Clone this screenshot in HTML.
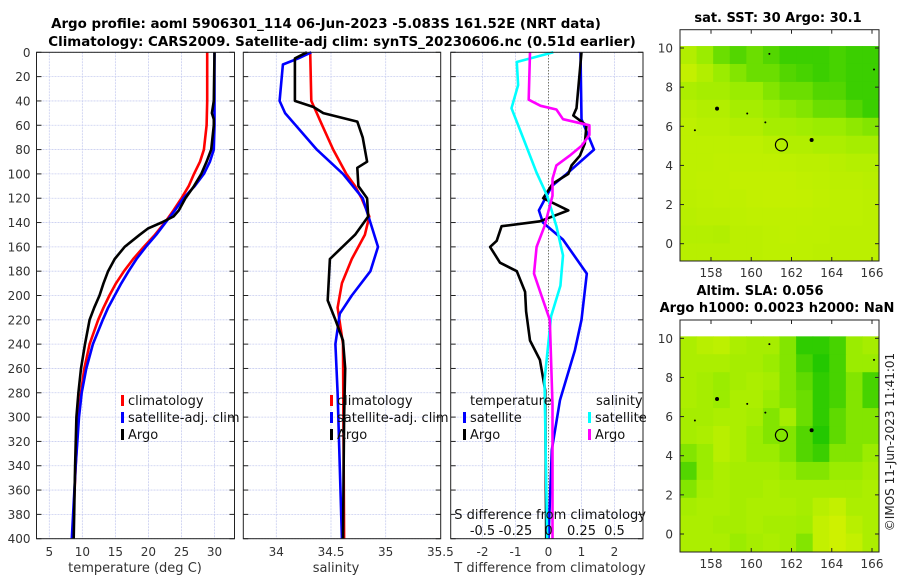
<!DOCTYPE html>
<html><head><meta charset="utf-8"><style>
body{margin:0;background:#fff;}
svg{display:block;font-family:"DejaVu Sans","Liberation Sans",sans-serif;}
</style></head><body>
<svg id="fig" width="900" height="580" viewBox="0 0 900 580" xmlns="http://www.w3.org/2000/svg">
<text x="326" y="28" text-anchor="middle" font-size="13.4" font-weight="bold">Argo profile: aoml 5906301_114 06-Jun-2023 -5.083S 161.52E (NRT data)</text>
<text x="342" y="46" text-anchor="middle" font-size="13.4" font-weight="bold">Climatology: CARS2009. Satellite-adj clim: synTS_20230606.nc (0.51d earlier)</text>
<text x="778" y="22" text-anchor="middle" font-size="13" font-weight="bold">sat. SST: 30 Argo: 30.1</text>
<text x="760" y="295" text-anchor="middle" font-size="13" font-weight="bold">Altim. SLA: 0.056</text>
<text x="777" y="312" text-anchor="middle" font-size="13" font-weight="bold">Argo h1000: 0.0023 h2000: NaN</text>
<text transform="translate(894,442) rotate(-90)" text-anchor="middle" font-size="12" fill="#222">©IMOS 11-Jun-2023 11:41:01</text>
<g id="plots"></g>
</svg>
<script>
// ---- data ----
var depthTicks=[0,20,40,60,80,100,120,140,160,180,200,220,240,260,280,300,320,340,360,380,400];
var tTicks=[5,10,15,20,25,30];
var sTicks=[34,34.5,35,35.5];
var dTTicks=[-2,-1,0,1,2];
var dSTickLabels=["-0.5","-0.25","0","0.25","0.5"];
var dSTicks=[-0.5,-0.25,0,0.25,0.5];
// temperature
var tClimD=[0,20,40,60,80,90,100,110,120,130,140,150,160,170,180,190,200,210,220,240,260,280,300,340,400];
var tClimV=[28.9,28.9,28.9,28.8,28.4,27.8,26.9,26.1,25,23.8,22.5,21,19.3,17.7,16.3,15.1,14.1,13.2,12.4,11.1,10.3,9.8,9.4,9,8.5];
var tSatD=[0,20,60,80,90,100,110,120,130,140,150,160,170,180,190,200,210,220,240,260,280,300,340,400];
var tSatV=[30,30,30,29.9,29.3,28.4,27,25.3,24,22.6,21.2,19.6,18.2,17,15.9,14.9,13.9,13.1,11.6,10.6,9.9,9.5,9,8.4];
var tArgoD=[0,40,50,55,60,80,90,100,110,120,130,135,140,145,150,160,170,180,190,200,210,220,240,260,280,300,340,400];
var tArgoV=[30,29.9,29.6,29.9,29.9,29.5,28.8,28,26.9,25.6,24.6,23.8,22,19.9,18.7,16.4,14.9,13.9,13.2,12.6,11.8,11.1,10.4,9.8,9.4,9.1,8.9,8.7];
// salinity
var sClimD=[0,40,50,60,80,100,110,120,135,150,170,190,210,240,400];
var sClimV=[34.31,34.32,34.37,34.42,34.52,34.64,34.72,34.78,34.85,34.81,34.69,34.6,34.56,34.61,34.62];
var sSatD=[0,5,10,40,50,80,100,120,140,160,180,200,215,240,280,400];
var sSatV=[34.32,34.2,34.06,34.03,34.08,34.37,34.61,34.79,34.86,34.93,34.86,34.69,34.58,34.54,34.56,34.6];
var sArgoD=[0,5,10,40,45,50,57,70,90,95,110,120,135,150,170,204,220,237,260,300,400];
var sArgoV=[34.28,34.17,34.17,34.17,34.34,34.43,34.74,34.79,34.83,34.74,34.75,34.83,34.84,34.72,34.49,34.47,34.54,34.61,34.63,34.62,34.61];
// differences
var dTSatD=[0,55,80,100,110,130,140,154,182,220,245,286,327,400];
var dTSatV=[0.97,1.0,1.38,0.55,0.1,-0.29,-0.17,0.44,1.16,1.0,0.8,0.35,0.1,0];
var dTArgoD=[0,46,52,60,75,85,93,100,108,120,130,139,143,155,160,173,180,197,213,237,253,278,400];
var dTArgoV=[1.0,0.85,0.75,1.15,1.1,0.95,0.7,0.6,0.13,-0.16,0.6,-0.26,-1.42,-1.57,-1.77,-1.47,-0.96,-0.71,-0.68,-0.56,-0.26,-0.1,-0.07];
var dSSatD=[0,8,27,46,71,99,118,143,167,192,217,270,400];
var dSSatV=[0.036,-0.24,-0.23,-0.28,-0.19,-0.09,-0.01,0.06,0.11,0.09,0.02,-0.03,-0.01];
var dSArgoD=[0,39,44,47,55,60,68,77,85,93,104,118,143,160,182,198,220,290,400];
var dSArgoV=[-0.14,-0.15,-0.06,0.06,0.11,0.31,0.31,0.25,0.16,0.06,0.03,0.03,-0.03,-0.09,-0.11,-0.06,0.01,0.03,0.03];
// maps
var lonTicks=[158,160,162,164,166];
var latTicks=[0,2,4,6,8,10];
var sstGrid=[
[0.7,0.5,0.3,0.2,0.3,0.2,0.1,0.1,0.1,0.15,0.1,0.1],
[0.85,0.7,0.5,0.4,0.3,0.3,0.2,0.15,0.1,0.15,0.1,0.1],
[0.65,0.6,0.6,0.5,0.5,0.4,0.3,0.3,0.2,0.2,0.1,0.1],
[0.75,0.7,0.7,0.6,0.6,0.5,0.45,0.4,0.3,0.3,0.2,0.1],
[0.8,0.75,0.75,0.7,0.7,0.6,0.6,0.55,0.5,0.5,0.45,0.4],
[0.8,0.8,0.8,0.8,0.8,0.75,0.7,0.7,0.65,0.65,0.6,0.6],
[0.8,0.8,0.82,0.82,0.82,0.82,0.8,0.78,0.78,0.75,0.72,0.72],
[0.8,0.82,0.82,0.84,0.84,0.84,0.84,0.82,0.8,0.78,0.78,0.75],
[0.78,0.8,0.82,0.82,0.84,0.85,0.85,0.84,0.82,0.8,0.8,0.78],
[0.75,0.78,0.78,0.8,0.82,0.82,0.82,0.82,0.8,0.8,0.8,0.78],
[0.72,0.72,0.7,0.78,0.78,0.8,0.82,0.8,0.8,0.78,0.78,0.78],
[0.75,0.75,0.75,0.78,0.78,0.8,0.8,0.8,0.78,0.78,0.78,0.78]];
var slaGrid=[
[0.65,0.75,0.8,0.65,0.6,0.6,0.4,0.05,0.05,0.15,0.5,0.6],
[0.65,0.65,0.65,0.6,0.6,0.5,0.4,0.15,0.0,0.15,0.5,0.5],
[0.65,0.6,0.5,0.6,0.65,0.6,0.4,0.25,0.05,0.15,0.4,0.15],
[0.65,0.6,0.5,0.65,0.65,0.5,0.4,0.3,0.05,0.15,0.4,0.15],
[0.6,0.6,0.65,0.65,0.6,0.4,0.6,0.3,0.05,0.25,0.4,0.4],
[0.6,0.65,0.75,0.65,0.5,0.4,0.4,0.2,0.0,0.25,0.4,0.4],
[0.4,0.5,0.75,0.65,0.5,0.5,0.4,0.2,0.1,0.4,0.4,0.5],
[0.2,0.5,0.65,0.6,0.6,0.6,0.5,0.4,0.4,0.5,0.5,0.6],
[0.4,0.6,0.65,0.6,0.6,0.65,0.6,0.6,0.6,0.6,0.6,0.65],
[0.6,0.65,0.65,0.6,0.65,0.65,0.65,0.6,0.75,0.85,0.65,0.65],
[0.65,0.65,0.6,0.6,0.65,0.6,0.6,0.55,0.85,0.95,0.75,0.65],
[0.65,0.65,0.65,0.5,0.6,0.65,0.6,0.4,0.85,0.95,0.85,0.65]];
var floatLon=[161.5], floatLat=[5.05];
var otherLon=[163,158.3,159.8,160.7,157.2,160.9,166.1];
var otherLat=[5.3,6.9,6.65,6.2,5.8,9.7,8.9];

// ---- helpers ----
var NS="http://www.w3.org/2000/svg";
var root=document.getElementById('plots');
function mk(tag,attrs,parent,text){var e=document.createElementNS(NS,tag);for(var k in attrs)e.setAttribute(k,attrs[k]);if(text!==undefined)e.textContent=text;(parent||root).appendChild(e);return e;}
var Y0=52.3,Y1=538.7;
function yD(d){return Y0+(d/400)*(Y1-Y0);}
function lin(d0,d1,r0,r1){return function(v){return r0+(v-d0)/(d1-d0)*(r1-r0);};}

function panel(name,x0,x1,xs,ticks,tickLabels,showY){
  var g=mk('g',{});
  
  
  mk('rect',{x:x0,y:Y0,width:x1-x0,height:Y1-Y0,fill:'#fff'},g);
  depthTicks.forEach(function(d){
    var gl=mk('line',{x1:x0,x2:x1,y1:yD(d),y2:yD(d),stroke:'#c8cdf0','stroke-width':0.8,'stroke-dasharray':'2,1'},g);
    
    
    mk('line',{x1:x0,x2:x0+5,y1:yD(d),y2:yD(d),stroke:'#222'},g);
    mk('line',{x1:x1-5,x2:x1,y1:yD(d),y2:yD(d),stroke:'#222'},g);
    if(showY){var t=mk('text',{x:x0-6,y:yD(d)+4.5,'text-anchor':'end','font-size':12,fill:'#333'},g,String(d));
      
      }
  });
  ticks.forEach(function(v,i){
    var x=xs(v);
    if(x>x0+1&&x<x1-1){var gl=mk('line',{x1:x,x2:x,y1:Y0,y2:Y1,stroke:'#c8cdf0','stroke-width':0.8,'stroke-dasharray':'2,1'},g);
      
      }
    var t=mk('text',{x:x,y:556,'text-anchor':'middle','font-size':12,fill:'#333'},g,tickLabels[i]);
    
    
  });
  return g;
}
function frame(g,x0,x1){mk('rect',{x:x0,y:Y0,width:x1-x0,height:Y1-Y0,fill:'none',stroke:'#222','stroke-width':1},g);}
function series(g,name,D,V,xs,color){
  var pts=D.map(function(d,i){return xs(V[i]).toFixed(1)+','+yD(d).toFixed(1);}).join(' ');
  var p=mk('polyline',{points:pts,fill:'none',stroke:color,'stroke-width':2.6,'stroke-linejoin':'round'},g);
  
  
}
function legend(g,x,y,color,label){
  mk('rect',{x:x,y:y-10,width:3,height:11,fill:color},g);
  var t=mk('text',{x:x+7,y:y,'font-size':13,fill:'#111'},g,label);
  
  
}

// panel 1 temperature
var xT=lin(5,30,49.3,214.5);
var g1=panel('temperature-panel',36.5,234.5,xT,tTicks,tTicks.map(String),true);
series(g1,'temperature-climatology',tClimD,tClimV,xT,'#f00');
series(g1,'temperature-satellite-adj',tSatD,tSatV,xT,'#00f');
series(g1,'temperature-argo',tArgoD,tArgoV,xT,'#000');
legend(g1,121,405,'#f00','climatology');legend(g1,121,422,'#00f','satellite-adj. clim');legend(g1,121,439,'#000','Argo');
frame(g1,36.5,234.5);
var xl=mk('text',{x:135,y:572,'text-anchor':'middle','font-size':13,fill:'#333'},g1,'temperature (deg C)');



// panel 2 salinity
var xS=lin(34,35,276.3,385.7);
var g2=panel('salinity-panel',243.3,440.7,xS,sTicks,sTicks.map(String),false);
series(g2,'salinity-climatology',sClimD,sClimV,xS,'#f00');
series(g2,'salinity-satellite-adj',sSatD,sSatV,xS,'#00f');
series(g2,'salinity-argo',sArgoD,sArgoV,xS,'#000');
legend(g2,330,405,'#f00','climatology');legend(g2,330,422,'#00f','satellite-adj. clim');legend(g2,330,439,'#000','Argo');
frame(g2,243.3,440.7);
xl=mk('text',{x:336,y:572,'text-anchor':'middle','font-size':13,fill:'#333'},g2,'salinity');



// panel 3 differences
var xDT=lin(0,1,548.5,581.5);
var xDS=lin(0,0.25,548.5,581.5);
var g3=panel('difference-panel',450.7,643,xDT,dTTicks,dTTicks.map(String),false);
var zl=mk('line',{x1:xDT(0),x2:xDT(0),y1:Y0,y2:Y1,stroke:'#555533','stroke-width':1,'stroke-dasharray':'1,2'},g3);


series(g3,'t-diff-satellite',dTSatD,dTSatV,xDT,'#00f');
series(g3,'t-diff-argo',dTArgoD,dTArgoV,xDT,'#000');
series(g3,'s-diff-satellite',dSSatD,dSSatV,xDS,'#0ff');
series(g3,'s-diff-argo',dSArgoD,dSArgoV,xDS,'#f0f');
var tt=mk('text',{x:470,y:405,'font-size':13,fill:'#111'},g3,'temperature');

legend(g3,463,422,'#00f','satellite');legend(g3,463,439,'#000','Argo');
tt=mk('text',{x:596,y:405,'font-size':13,fill:'#111'},g3,'salinity');

legend(g3,588,422,'#0ff','satellite');legend(g3,588,439,'#f0f','Argo');
tt=mk('text',{x:646,y:519,'text-anchor':'end','font-size':13,fill:'#111'},g3,'S difference from climatology');

dSTicks.forEach(function(v,i){var t=mk('text',{x:xDS(v),y:535,'text-anchor':'middle','font-size':13,fill:'#111'},g3,dSTickLabels[i]);
  });
frame(g3,450.7,643);
xl=mk('text',{x:550,y:572,'text-anchor':'middle','font-size':13,fill:'#333'},g3,'T difference from climatology');



// maps
function col(v){var a,b,t;var c0=[35,200,0],c1=[155,236,0],c2=[212,242,0];
  if(v<0.5){a=c0;b=c1;t=v/0.5;}else{a=c1;b=c2;t=(v-0.5)/0.5;}
  return 'rgb('+a.map(function(x,i){return Math.round(x+(b[i]-x)*t);}).join(',')+')';}
function map(name,top,bottom,grid){
  var L=680,R=879;
  var xL=lin(158,166,711,872);
  var y10=top+18.3, y0=y10+195.7;
  var yL=lin(0,10,y0,y10);
  var g=mk('g',{});
  
  
  mk('rect',{x:L,y:top,width:R-L,height:bottom-top,fill:'#fff'},g);
  var lonMin=156.46,lonMax=166.35,latTop=10.1,latBot=-0.9;
  var nr=grid.length,nc=grid[0].length;
  var dlon=(lonMax-lonMin)/nc,dlat=(latTop-latBot)/nr;
  grid.forEach(function(row,r){row.forEach(function(v,c){
    var x=xL(lonMin+c*dlon),x2=xL(lonMin+(c+1)*dlon),y=yL(latTop-r*dlat),y2=yL(latTop-(r+1)*dlat);
    var cell=mk('rect',{x:x.toFixed(2),y:y.toFixed(2),width:(x2-x+0.5).toFixed(2),height:(y2-y+0.5).toFixed(2),fill:col(v)},g);
    
    
  });});
  mk('rect',{x:L,y:bottom,width:R-L+1,height:3,fill:'#fff'},g);
  otherLon.forEach(function(lo,i){var d=mk('circle',{cx:xL(lo),cy:yL(otherLat[i]),r:i<2?2:1,fill:'#000'},g);
    });
  floatLon.forEach(function(lo,i){var c=mk('circle',{cx:xL(lo),cy:yL(floatLat[i]),r:6,fill:'none',stroke:'#000','stroke-width':1.2},g);
    });
  mk('rect',{x:L,y:top,width:R-L,height:bottom-top,fill:'none',stroke:'#222'},g);
  latTicks.forEach(function(v){var y=yL(v);
    mk('line',{x1:L,x2:L+4,y1:y,y2:y,stroke:'#222'},g);mk('line',{x1:R-4,x2:R,y1:y,y2:y,stroke:'#222'},g);
    var t=mk('text',{x:L-7,y:y+4.5,'text-anchor':'end','font-size':12,fill:'#333'},g,String(v));
    });
  lonTicks.forEach(function(v){var x=xL(v);
    mk('line',{x1:x,x2:x,y1:bottom-4,y2:bottom,stroke:'#222'},g);mk('line',{x1:x,x2:x,y1:top,y2:top+4,stroke:'#222'},g);
    var t=mk('text',{x:x,y:bottom+16,'text-anchor':'middle','font-size':12,fill:'#333'},g,String(v));
    });
}
map('sst-map',29.7,261,sstGrid);
map('sla-map',320,552,slaGrid);
</script>
</body></html>
